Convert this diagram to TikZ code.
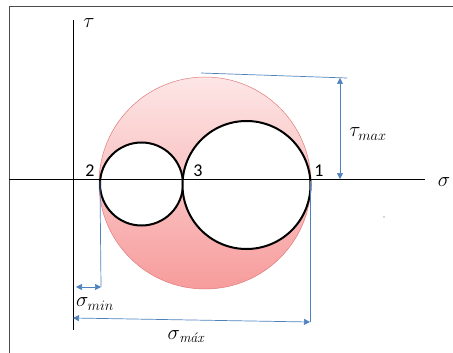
\documentclass[tikz,border=0pt]{standalone}
\usepackage{amsmath}
\usepackage{fontspec}
\newfontfamily\numfont{Carlito}
\usetikzlibrary{positioning, arrows.meta, calc}
\definecolor{dimblue}{HTML}{4F81BD}
\definecolor{pinktop}{HTML}{FDE6E6}
\definecolor{pinkbot}{HTML}{F79C9C}
\definecolor{pinkedge}{HTML}{E07A7A}
\tikzset{
  axisline/.style={black, line width=0.8pt},
  dimline/.style={dimblue, line width=0.7pt},
  dimarrow/.style={dimblue, line width=0.7pt, {Triangle[length=6pt,width=6pt]}-{Triangle[length=6pt,width=6pt]}},
  mohrcircle/.style={black, line width=2pt, fill=white},
  ptlabel/.style={font=\numfont\fontsize{18}{18}\selectfont, inner sep=0pt},
  mathlabel/.style={font=\fontsize{20}{20}\selectfont, inner sep=0pt},
}
\begin{document}
\begin{tikzpicture}[x=1pt, y=-1pt]
    \useasboundingbox (0,0) rectangle (453,353);
    % Frame
    \draw[black!70, line width=1pt] (9,353) -- (9,7) -- (453,7);

    % ---------------- CIRCLES ---------------- %
    \shade[draw=pinkedge, line width=0.5pt, top color=pinktop, bottom color=pinkbot] (205,183) circle[radius=106pt];
    \draw[mohrcircle] (141.5,184) circle[radius=41.5pt];
    \draw[mohrcircle] (246.5,185) circle[radius=64pt];

    % ---------------- AXES ---------------- %
    \coordinate (xl) at (9,179);
    \coordinate (xr) at (425,179);
    \coordinate (yt) at (73,20);
    \coordinate (yb) at (73,330);
    \draw[axisline] (xl) -- (xr);
    \draw[axisline] (yt) -- (yb);
    \node[mathlabel] (sigma) at (444,182) {$\sigma$};
    \node[mathlabel] (tau) at (89,23) {$\tau$};

    % Principal stresses
    \node[ptlabel] (p2) at (90,171) {2};
    \node[ptlabel] (p3) at (198,171) {3};
    \node[ptlabel] (p1) at (319,171) {1};

    % ---------------- DIMENSIONS ---------------- %
    % tau max
    \coordinate (ttop) at (201,73);
    \coordinate (tend) at (347,78);
    \coordinate (tup) at (340,78);
    \coordinate (tdown) at (340,179);
    \draw[dimline] (ttop) -- (tend);
    \draw[dimarrow] (tup) -- (tdown);
    \node[mathlabel] (taumax) at (368,134) {$\tau_{max}$};

    % sigma min
    \coordinate (s2) at (100,181);
    \coordinate (s2b) at (101,287);
    \coordinate (o2) at (76,287);
    \draw[dimline] (s2) -- (s2b);
    \draw[dimarrow] (o2) -- (s2b);
    \node[mathlabel] (sigmamin) at (95,304) {$\sigma_{min}$};

    % sigma max
    \coordinate (s1) at (310,181);
    \coordinate (s1b) at (310,322);
    \coordinate (o1) at (73,318);
    \draw[dimline] (s1) -- (s1b);
    \draw[dimarrow] (o1) -- (s1b);
    \node[mathlabel] (sigmamax) at (186,337) {$\sigma_{\textit{máx}}$};

    % stray dot
    \fill[black!70] (384,217) circle[radius=0.6pt];
\end{tikzpicture}
\end{document}
